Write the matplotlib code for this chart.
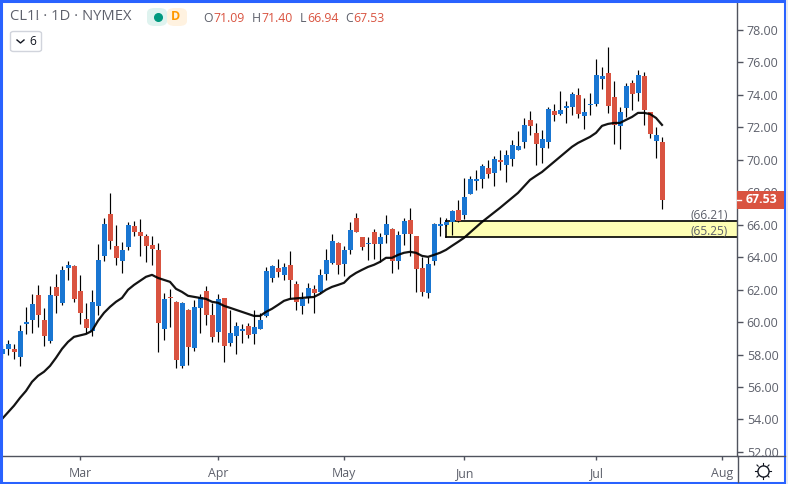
import matplotlib
matplotlib.use('Agg')
import matplotlib.pyplot as plt
from matplotlib.patches import Rectangle, FancyBboxPatch
from matplotlib.lines import Line2D
from matplotlib.transforms import blended_transform_factory

# daily bars, oldest first
opens = [58.04, 58.35, 58.35, 57.86, 59.89, 60.14, 61.68, 60.14, 58.85, 62.17,
         61.19, 63.34, 63.46, 61.92, 60.20, 59.46, 61.00, 64.08, 66.67, 64.70,
         63.77, 64.64, 65.92, 65.55, 65.31, 64.76, 64.45, 59.58, 61.55, 61.25,
         57.30, 60.75, 58.41, 60.88, 61.92, 60.45, 59.40, 61.49, 58.72, 59.15,
         59.46, 59.77, 59.27, 59.58, 60.38, 62.72, 63.34, 62.91, 63.53, 62.36,
         61.00, 61.49, 62.05, 61.86, 62.97, 63.65, 64.88, 63.59, 64.45, 66.42,
         65.25, 64.82, 65.55, 64.82, 65.37, 65.74, 63.77, 65.43, 66.30, 65.31,
         63.34, 61.80, 63.77, 65.92, 65.99, 66.17, 66.92, 66.61, 67.90, 68.70,
         68.82, 69.50, 69.20, 70.00, 69.69, 70.06, 70.61, 71.10, 72.46, 71.66,
         70.73, 71.10, 73.01, 72.82, 73.20, 73.26, 74.00, 72.70, 73.38, 73.44,
         74.98, 75.35, 73.87, 72.09, 73.20, 74.74, 74.12, 75.17, 72.95, 71.16,
         71.09]
highs = [58.60, 58.90, 58.66, 59.83, 60.94, 61.74, 62.29, 60.88, 62.23, 62.97,
         63.46, 63.77, 63.53, 62.91, 61.19, 61.99, 64.82, 66.42, 67.96, 65.99,
         64.94, 66.17, 66.23, 66.36, 65.43, 65.31, 64.88, 61.80, 62.05, 61.31,
         61.25, 60.82, 61.37, 61.74, 62.23, 61.19, 61.74, 61.49, 60.75, 60.01,
         59.89, 59.95, 60.75, 60.57, 63.40, 63.53, 63.89, 63.65, 64.39, 62.54,
         61.86, 62.42, 62.29, 63.28, 64.51, 65.43, 64.94, 64.70, 66.17, 66.73,
         65.25, 65.25, 65.74, 65.49, 66.61, 65.80, 65.62, 66.42, 67.04, 65.31,
         64.02, 64.02, 66.11, 66.49, 66.42, 66.92, 67.53, 68.88, 69.01, 69.38,
         69.75, 70.00, 70.24, 70.61, 70.61, 71.23, 71.78, 72.58, 73.01, 72.28,
         71.84, 73.26, 73.44, 74.24, 73.63, 74.18, 74.43, 73.81, 74.12, 76.21,
         75.72, 76.95, 74.86, 73.26, 74.74, 74.92, 75.54, 75.41, 72.95, 72.02,
         71.40]
lows = [57.80, 58.00, 57.73, 57.31, 59.27, 59.33, 59.71, 58.54, 58.72, 60.57,
        61.06, 62.60, 61.25, 59.89, 59.33, 59.15, 60.45, 63.77, 64.51, 63.53,
        63.03, 64.45, 65.31, 64.08, 63.71, 63.53, 58.17, 58.90, 59.71, 57.18,
        57.18, 57.37, 58.23, 59.33, 59.83, 58.78, 58.78, 57.55, 58.54, 58.04,
        58.72, 59.03, 58.66, 59.58, 60.32, 62.48, 62.79, 62.60, 61.43, 60.75,
        60.51, 61.19, 60.57, 61.80, 62.60, 63.59, 62.97, 62.85, 64.20, 65.55,
        64.45, 63.83, 63.89, 63.71, 64.88, 63.03, 63.28, 64.76, 64.08, 61.86,
        61.62, 61.49, 63.53, 65.31, 65.92, 65.37, 66.17, 66.36, 67.90, 68.15,
        68.27, 68.88, 68.39, 69.38, 68.64, 69.63, 70.61, 70.73, 71.53, 69.69,
        69.81, 70.73, 72.39, 72.76, 72.27, 72.76, 72.58, 71.90, 72.76, 73.32,
        74.37, 72.89, 70.98, 70.67, 72.64, 73.07, 73.63, 72.15, 71.35, 70.11,
        66.94]
closes = [58.35, 58.66, 58.17, 59.46, 60.01, 61.12, 60.45, 59.15, 61.68, 61.62,
          63.22, 63.53, 61.43, 60.57, 59.64, 61.25, 63.83, 66.05, 65.00, 63.96,
          64.45, 65.99, 65.55, 65.31, 64.70, 64.51, 59.95, 61.43, 61.49, 57.67,
          61.19, 58.47, 60.94, 61.55, 60.45, 59.09, 61.43, 58.54, 59.33, 59.77,
          59.58, 59.21, 59.71, 60.14, 63.16, 63.46, 63.09, 63.40, 62.60, 61.25,
          61.43, 62.11, 61.80, 62.91, 63.83, 65.00, 63.53, 64.45, 65.68, 65.55,
          64.64, 64.88, 64.82, 65.25, 66.05, 63.77, 65.37, 66.23, 65.43, 63.28,
          61.86, 63.59, 66.05, 66.05, 66.17, 66.86, 66.23, 67.72, 68.82, 68.82,
          69.63, 69.13, 70.06, 69.87, 70.30, 70.92, 70.86, 72.15, 72.09, 70.98,
          71.29, 73.13, 72.76, 73.07, 73.32, 74.06, 72.82, 72.95, 73.44, 75.23,
          75.17, 73.32, 72.15, 72.95, 74.55, 74.06, 75.23, 73.07, 71.59, 71.53,
          67.53]

# moving average, given at the bars where it bends
ma_days = [0, 2, 3, 4, 5, 6, 7, 8, 9, 10, 11, 12, 14, 15, 16, 17, 18, 19, 20,
           21, 22, 23, 24, 25, 26, 27, 28, 29, 30, 31, 33, 34, 35, 36, 37, 38,
           40, 42, 43, 44, 45, 46, 47, 48, 50, 52, 53, 54, 55, 56, 57, 58, 59,
           60, 61, 62, 63, 64, 65, 66, 67, 68, 69, 70, 71, 72, 73, 74, 75, 76,
           77, 80, 83, 86, 88, 89, 90, 91, 93, 95, 96, 98, 99, 100, 101, 102,
           103, 104, 105, 106, 107, 108, 109, 110]
ma_values = [54.03, 54.85, 55.33, 55.76, 56.32, 56.69, 56.94, 57.30, 57.80,
             58.35, 58.78, 59.09, 59.27, 59.46, 60.08, 60.57, 60.94, 61.25,
             61.49, 61.99, 62.29, 62.54, 62.79, 62.91, 62.72, 62.60, 62.48,
             62.05, 61.86, 61.62, 61.49, 61.43, 61.25, 61.19, 61.00, 60.88,
             60.63, 60.38, 60.38, 60.63, 60.82, 61.06, 61.31, 61.43, 61.49,
             61.55, 61.74, 61.99, 62.17, 62.29, 62.42, 62.79, 63.03, 63.22,
             63.40, 63.53, 63.71, 63.96, 63.96, 64.14, 64.27, 64.33, 64.27,
             64.08, 64.02, 64.14, 64.27, 64.45, 64.70, 64.94, 65.19, 66.17,
             67.04, 67.96, 68.76, 69.01, 69.25, 69.56, 70.18, 70.80, 71.04,
             71.41, 71.66, 72.09, 72.21, 72.27, 72.27, 72.46, 72.64, 72.89,
             72.89, 72.82, 72.58, 72.15]

zone_start = 74
zone_top = 66.21
zone_bottom = 65.25
last_price = 67.53

month_days = [13, 36, 57, 77, 99, 120]
month_labels = ['Mar', 'Apr', 'May', 'Jun', 'Jul', 'Aug']
price_ticks = list(range(52, 80, 2))

ohlc_labels = ['O', 'H', 'L', 'C']
ohlc_values = ['71.09', '71.40', '66.94', '67.53']

UP = '#1976d2'
DOWN = '#d95340'
AXIS = '#50535e'
TEXT = '#5d606b'
BORDER = '#2962ff'
W, H = 788, 484

plt.rcParams['font.family'] = ['Open Sans', 'DejaVu Sans']

fig = plt.figure(figsize=(W / 100, H / 100), dpi=100)
fig.patch.set_facecolor('white')
ax = fig.add_axes([3 / W, (H - 456) / H, 734 / W, 453 / H])
ax.set_xlim(1 / 6, 735 / 6)
ax.set_ylim(51.75, 79.66)

for s in ['top', 'left']:
    ax.spines[s].set_visible(False)
for s in ['right', 'bottom']:
    ax.spines[s].set_color(AXIS)
    ax.spines[s].set_linewidth(1)

# supply/demand zone
ax.fill_between([zone_start, 200], zone_bottom, zone_top, color='#ffffb5', lw=0, zorder=1)
ax.plot([zone_start, 200], [zone_top, zone_top], color='black', lw=1.2, zorder=2)
ax.plot([zone_start, 200], [zone_bottom, zone_bottom], color='black', lw=1.2, zorder=2)
ax.plot([zone_start, zone_start], [zone_bottom, zone_top], color='black', lw=1.2, zorder=2)

# candles
days = list(range(len(opens)))
colors = [UP if c >= o else DOWN for o, c in zip(opens, closes)]
ax.vlines(days, lows, highs, color='black', lw=0.85, zorder=3)
ax.bar(days, [abs(c - o) for o, c in zip(opens, closes)],
       bottom=[min(o, c) for o, c in zip(opens, closes)],
       width=5 / 6, color=colors, lw=0, zorder=4)

ax.plot(ma_days, ma_values, color='black', lw=1.6, alpha=0.92, zorder=5,
        solid_joinstyle='round')

ax.text(121, zone_top + 0.36, '(%.2f)' % zone_top, ha='right', va='center',
        fontsize=8.6, color=TEXT, zorder=6)
ax.text(121, zone_bottom + 0.36, '(%.2f)' % zone_bottom, ha='right', va='center',
        fontsize=8.6, color=TEXT, zorder=6)

# axes ticks
ax.yaxis.tick_right()
ax.set_yticks(price_ticks)
ax.set_yticklabels(['%.2f' % p for p in price_ticks])
ax.set_xticks(month_days)
ax.set_xticklabels(month_labels)
ax.tick_params(axis='y', length=4, width=1, color=AXIS, labelcolor=TEXT, labelsize=8.9, pad=3)
ax.tick_params(axis='x', length=3, width=1, color=AXIS, labelcolor=TEXT, labelsize=8.9, pad=5)

# last price tag on the scale
tr = blended_transform_factory(ax.transAxes, ax.transData)
ax.add_patch(Rectangle((1.0, last_price - 0.56), 47 / 734, 1.12, transform=tr,
                       facecolor=DOWN, edgecolor='none', clip_on=False, zorder=7))
ax.plot([1.0, 1.0 + 4 / 734], [last_price, last_price], transform=tr, color='white',
        lw=1, clip_on=False, zorder=8)
ax.text(1.0 + 9 / 734, last_price, '%.2f' % last_price, transform=tr, va='center',
        ha='left', fontsize=8.8, fontweight='bold', color='white', clip_on=False, zorder=8)


def px(x, y):
    return x / W, 1 - y / H


def label(x, y, s, **kw):
    fx, fy = px(x, y)
    fig.text(fx, fy, s, va='center', **kw)


# header row
label(10, 17, 'CL1! · 1D · NYMEX', fontsize=10.6, color=TEXT)
name_x = [203, 252, 300, 345]
value_x = [213, 261, 307, 353]
for nx, vx, name, val in zip(name_x, value_x, ohlc_labels, ohlc_values):
    label(nx, 18, name, fontsize=8.8, color=TEXT)
    label(vx, 18, val, fontsize=8.8, color=DOWN)

# status pill
pill_l = FancyBboxPatch(px(147, 26), 20 / W, 18 / H, boxstyle='round,pad=0,rounding_size=0.01',
                        transform=fig.transFigure, facecolor='#dff3ef', edgecolor='none')
pill_r = FancyBboxPatch(px(167, 26), 20 / W, 18 / H, boxstyle='round,pad=0,rounding_size=0.01',
                        transform=fig.transFigure, facecolor='#fff2e0', edgecolor='none')
fig.add_artist(pill_l)
fig.add_artist(pill_r)
dot_x, dot_y = 158, 17
fig.add_artist(Line2D([dot_x / W], [1 - dot_y / H], marker='o', ms=5.5, color='#00997f',
                      transform=fig.transFigure))
label(176, 17, 'D', fontsize=9, color='#ff9800', ha='center', fontweight='bold')

# collapsed indicators box
fig.add_artist(FancyBboxPatch(px(10.5, 51.5), 31 / W, 20 / H,
                              boxstyle='round,pad=0,rounding_size=0.004',
                              transform=fig.transFigure, facecolor='white',
                              edgecolor='#d1d4dc', lw=1))
fig.add_artist(Line2D([17 / W, 20.5 / W, 24 / W], [1 - 40 / H, 1 - 43 / H, 1 - 40 / H],
                      color='#131722', lw=1, transform=fig.transFigure))
label(33, 41.5, '6', fontsize=8.6, color='#131722', ha='center')

# settings icon in the corner
sx, sy = 763, 471
fig.add_artist(Line2D([sx / W], [1 - sy / H], marker='o', ms=8, mfc='white', mec='#131722',
                      mew=1, transform=fig.transFigure))
for dx, dy in [(0, -8), (0, 8), (-8, 0), (8, 0), (-6, -6), (6, 6), (-6, 6), (6, -6)]:
    fig.add_artist(Line2D([(sx + dx * 0.8) / W, (sx + dx) / W],
                          [1 - (sy + dy * 0.8) / H, 1 - (sy + dy) / H],
                          color='#131722', lw=0.8, transform=fig.transFigure))

# scale line and time axis line run on to the frame
fig.add_artist(Line2D([737.5 / W, 737.5 / W], [1 - 456 / H, 1 - 482 / H], color=AXIS, lw=1,
                      transform=fig.transFigure))
fig.add_artist(Line2D([737.5 / W, 785 / W], [1 - 456 / H, 1 - 456 / H], color=AXIS, lw=1,
                      transform=fig.transFigure))

# outer frame
fig.add_artist(Rectangle(px(1, 483), 784 / W, 482 / H, transform=fig.transFigure,
                         facecolor='none', edgecolor=BORDER, lw=2.2))
fig.add_artist(Rectangle(px(786, H), 2 / W, 1, transform=fig.transFigure,
                         facecolor='#e8eaee', edgecolor='none'))

fig.savefig('out.png', dpi=100)
